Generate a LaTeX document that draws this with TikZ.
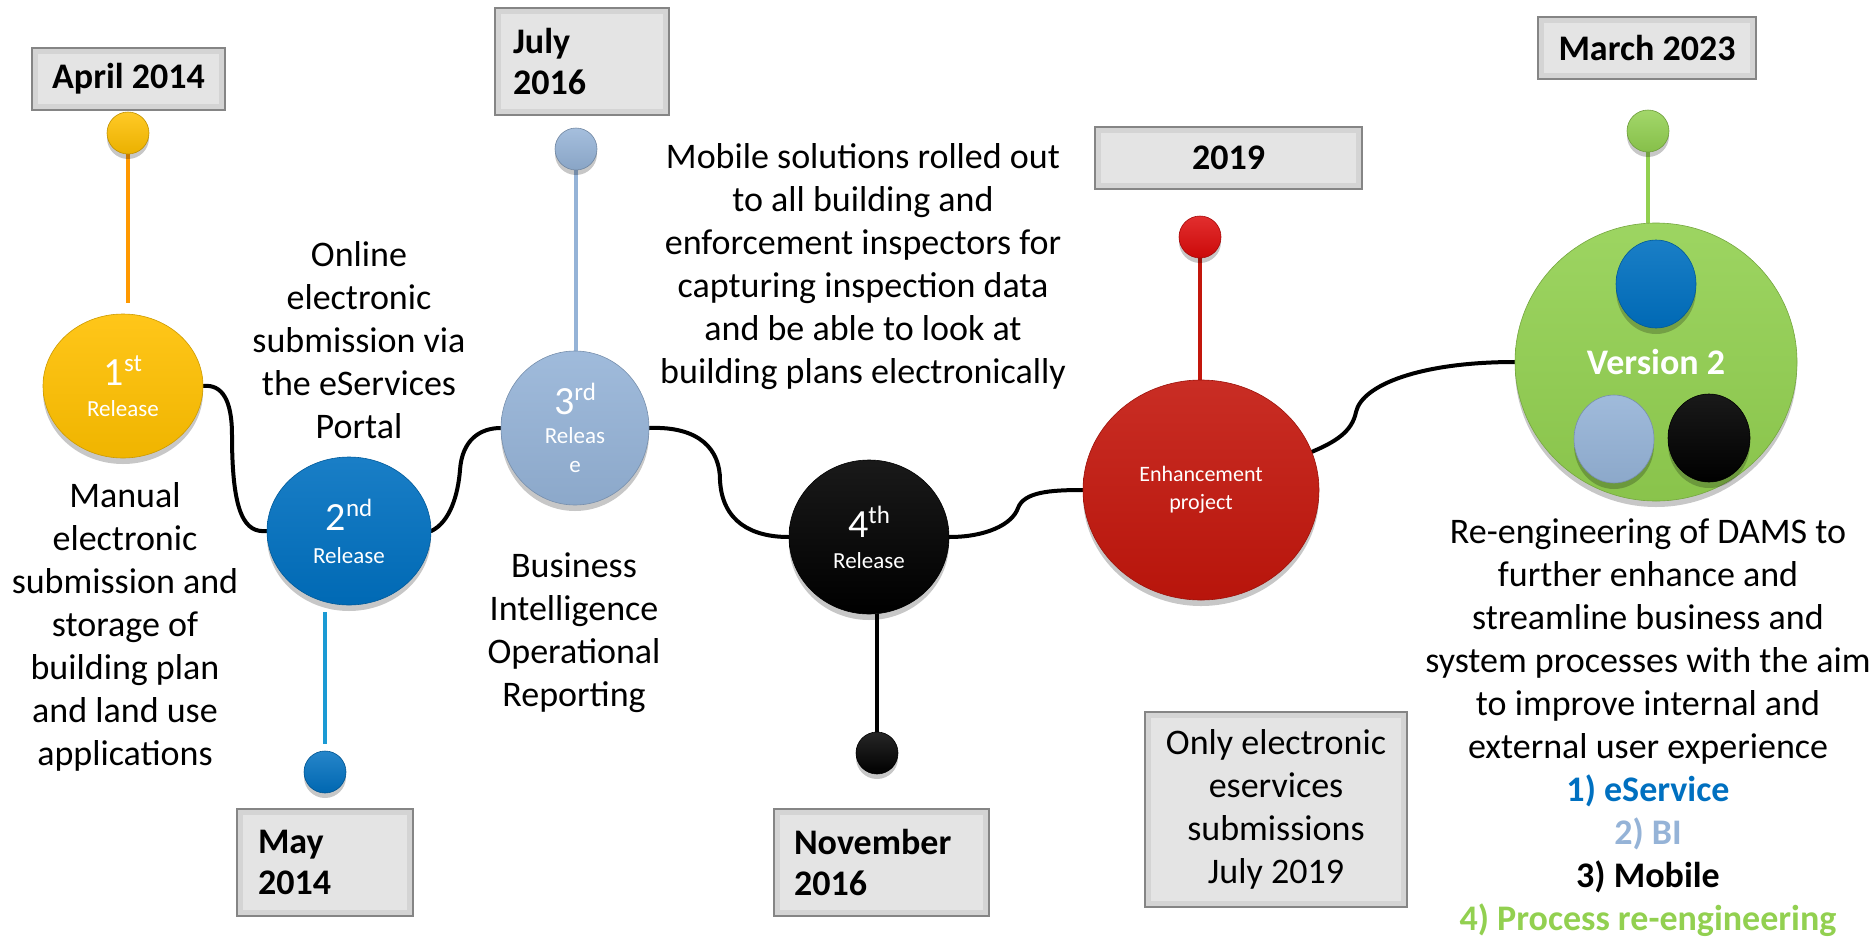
\documentclass[tikz,border=0pt]{standalone}
\usepackage{fontspec}
\setmainfont{Carlito}
\usetikzlibrary{shapes.geometric,shadows,calc}
\definecolor{cyel}{HTML}{FFC000}
\definecolor{corange}{HTML}{FF9900}
\definecolor{cblue}{HTML}{0070C0}
\definecolor{cblueline}{HTML}{1B9AD4}
\definecolor{clblue}{HTML}{95B3D7}
\definecolor{cred}{HTML}{C3160C}
\definecolor{credball}{HTML}{DD0A0A}
\definecolor{cgreen}{HTML}{92D050}
\definecolor{boxfill}{HTML}{E4E4E4}
\definecolor{boxedge}{HTML}{858585}
\definecolor{boxrim}{HTML}{D4D4D4}
\newcommand\sups[1]{\raisebox{14pt}{\fontsize{25}{25}\selectfont #1}}
\pgfdeclarelayer{bg}
\pgfsetlayers{bg,main}
\begin{document}
\begin{tikzpicture}[x=1pt,y=-1pt,
  disc/.style={ellipse, inner sep=0pt, draw=#1!80!black, line width=0.6pt,
     top color=#1!90!white, bottom color=#1!94!black,
     text=white, align=center,
     drop shadow={shadow xshift=0pt, shadow yshift=-6pt, opacity=0.22, fill=black}},
  knob/.style={circle, inner sep=0pt, minimum size=42pt, draw=#1!75!black, line width=0.6pt,
     top color=#1!85!white, bottom color=#1!92!black,
     drop shadow={shadow xshift=0pt, shadow yshift=-5pt, opacity=0.22, fill=black}},
  datebox/.style={rectangle, fill=boxfill, draw=boxedge, line width=2pt, inner sep=0pt,
     font=\fontsize{36}{41}\selectfont\bfseries,
     path picture={\draw[boxrim, line width=5pt]
        ([xshift=3.5pt,yshift=-3.5pt]path picture bounding box.north west) rectangle
        ([xshift=-3.5pt,yshift=3.5pt]path picture bounding box.south east);}},
  txt/.style={align=center, inner sep=0pt, font=\fontsize{36}{43}\selectfont},
  stem/.style={line width=4pt},
  conn/.style={line width=4pt, black, line cap=round}
]
\useasboundingbox (0,0) rectangle (1874,940);

% date boxes
\node[datebox, minimum width=193pt, minimum height=62pt] (d1) at (128.5,79) {April 2014};
\node[datebox, minimum width=174pt, minimum height=107pt, text width=138pt, inner xsep=18pt, align=left] (d3) at (582,61.5) {July\\2016};
\node[datebox, minimum width=267pt, minimum height=62pt] (d5) at (1228.5,158) {2019};
\node[datebox, minimum width=218pt, minimum height=62pt] (d6) at (1647,48) {March 2023};
\node[datebox, minimum width=176pt, minimum height=107pt, text width=134pt, inner xsep=21pt, align=left] (d2) at (325,862.5) {May\\2014};
\node[datebox, minimum width=215pt, minimum height=107pt, text width=175pt, inner xsep=20pt, align=left] (d4) at (881.5,862.5) {November\\2016};
\node[datebox, minimum width=262pt, minimum height=195pt, align=center, font=\fontsize{36}{43}\selectfont] (only) at (1276,809.5) {Only electronic\\eservices\\submissions\\July 2019};

% release discs
\node[disc=cyel, minimum width=160pt, minimum height=144pt, font=\fontsize{23}{31}\selectfont] (r1) at (123,386)
  {{\fontsize{40}{31}\selectfont 1\sups{st}}\\Release};
\node[disc=cblue, minimum width=164pt, minimum height=148pt, font=\fontsize{23}{33}\selectfont] (r2) at (349,531)
  {{\fontsize{40}{33}\selectfont 2\sups{nd}}\\Release};
\node[disc=clblue, minimum width=148pt, minimum height=154pt, font=\fontsize{23}{29}\selectfont] (r3) at (575,428)
  {{\fontsize{40}{29}\selectfont 3\sups{rd}}\\Releas\\e};
\node[disc=black, minimum width=160pt, minimum height=154pt, font=\fontsize{23}{31}\selectfont] (r4) at (869,537)
  {{\fontsize{40}{31}\selectfont 4\sups{th}}\\Release};
\node[disc=cred, minimum width=236pt, minimum height=220pt, font=\fontsize{22}{28}\selectfont] (enh) at (1201,490)
  {Enhancement\\project};
\node[disc=cgreen, minimum width=282pt, minimum height=278pt, font=\fontsize{36}{40}\selectfont\bfseries] (v2) at (1656,362)
  {Version 2};
\node[disc=cblue, minimum width=80pt, minimum height=88pt] (v2a) at (1656,284) {};
\node[disc=clblue, minimum width=80pt, minimum height=88pt] (v2b) at (1614,439) {};
\node[disc=black, minimum width=82pt, minimum height=88pt] (v2c) at (1709,438) {};

% knobs
\node[knob=cyel] (b1) at (128,133) {};
\node[knob=cblue] (b2) at (325,772) {};
\node[knob=clblue] (b3) at (576,149) {};
\node[knob=black] (b4) at (877,753) {};
\node[knob=credball] (b5) at (1200,237) {};
\node[knob=cgreen] (b6) at (1648,131) {};

% texts
\node[txt] (t1) at (125,627) {Manual\\electronic\\submission and\\storage of\\building plan\\and land use\\applications};
\node[txt] (t2) at (359,340) {Online\\electronic\\submission via\\the eServices\\Portal};
\node[txt] (t3) at (574,633) {Business\\Intelligence\\Operational\\Reporting};
\node[txt] (t4) at (863,267) {Mobile solutions rolled out\\to all building and\\enforcement inspectors for\\capturing inspection data\\and be able to look at\\building plans electronically};
\node[txt] (t6) at (1648,728) {Re-engineering of DAMS to\\further enhance and\\streamline business and\\system processes with the aim\\to improve internal and\\external user experience\\
  {\bfseries\color{cblue}1) eService}\\{\bfseries\color{clblue}2) BI}\\{\bfseries 3) Mobile}\\{\bfseries\color{cgreen}4) Process re-engineering}};

\begin{pgfonlayer}{bg}
% stems
\draw[stem, corange, shorten >=11pt] (b1.south) -- (b1.south |- r1.north);
\draw[stem, cblueline, shorten >=7pt, shorten <=7pt] (b2.north) -- (b2.north |- r2.south);
\draw[stem, clblue] (b3.south) -- (b3.south |- r3.north);
\draw[stem, black] (b4.north) -- (b4.north |- r4.south);
\draw[stem, cred] (b5.south) -- (b5.south |- enh.north);
\draw[stem, cgreen] (b6.south) -- (b6.south |- v2.north);
% connectors
\draw[conn] (r1.east) .. controls (222,384) and (232,400) .. (232,435)
   .. controls (232,515) and (245,533) .. (r2.west);
\draw[conn] (r2.east) .. controls (450,522) and (458,495) .. (460,470)
   .. controls (462,440) and (480,428) .. (r3.west);
\draw[conn] (r3.east) .. controls (700,426) and (720,450) .. (720,480)
   .. controls (722,522) and (752,537) .. (r4.west);
\draw[conn] (r4.east) .. controls (985,537) and (1012,525) .. (1018,508)
   .. controls (1024,492) and (1050,490) .. (enh.west);
\draw[conn] (enh.19) .. controls (1335,442) and (1352,432) .. (1356,412)
   .. controls (1362,385) and (1420,362) .. (v2.west);
\end{pgfonlayer}
\end{tikzpicture}
\end{document}
